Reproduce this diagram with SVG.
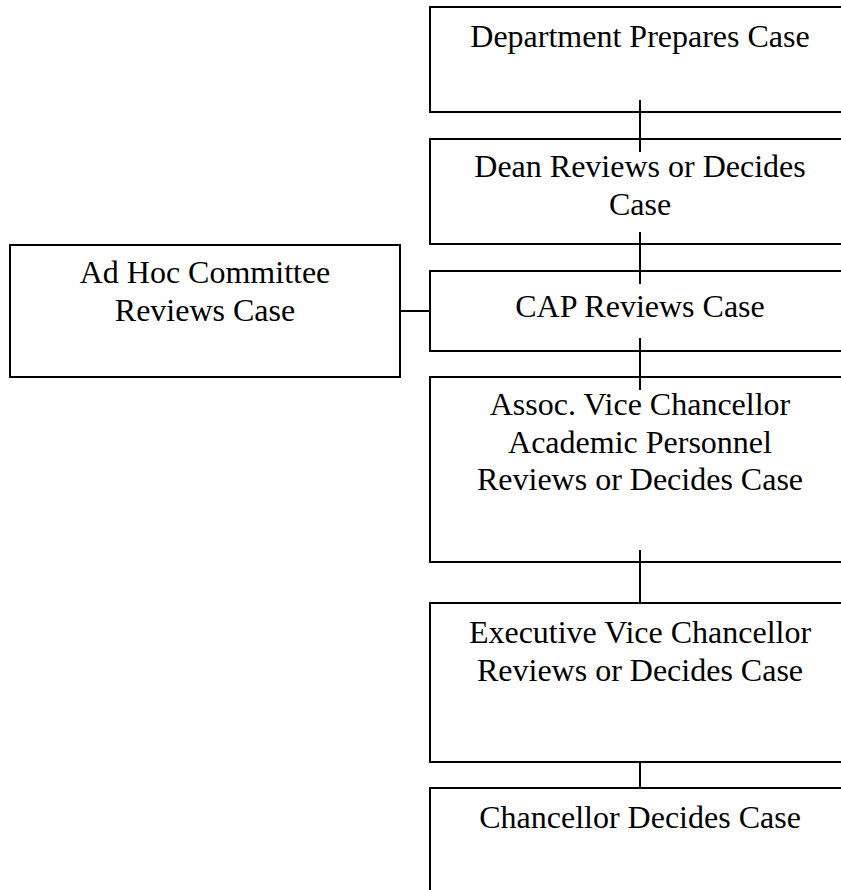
<svg xmlns="http://www.w3.org/2000/svg" width="841" height="890" viewBox="0 0 841 890">
<style>
.box{fill:#fff;stroke:#000;stroke-width:2}
.lbl{font-family:"Liberation Serif","Times New Roman",serif;font-size:32px;fill:#000;text-anchor:middle}
.conn line{stroke:#000;stroke-width:2}
</style>
<rect width="841" height="890" fill="#fff"/>
<g id="n1"><rect class="box" x="430" y="7" width="420" height="105"/><text class="lbl" x="640" y="47">Department Prepares Case</text></g>
<g id="n2"><rect class="box" x="430" y="139" width="420" height="105"/><text class="lbl" x="640" y="177">Dean Reviews or Decides</text><text class="lbl" x="640" y="215">Case</text></g>
<g id="n3"><rect class="box" x="430" y="271" width="420" height="80"/><text class="lbl" x="640" y="317">CAP Reviews Case</text></g>
<g id="n4"><rect class="box" x="430" y="377" width="420" height="185"/><text class="lbl" x="640" y="415">Assoc. Vice Chancellor</text><text class="lbl" x="640" y="453">Academic Personnel</text><text class="lbl" x="640" y="490">Reviews or Decides Case</text></g>
<g id="n5"><rect class="box" x="430" y="603" width="420" height="159"/><text class="lbl" x="640" y="643">Executive Vice Chancellor</text><text class="lbl" x="640" y="681">Reviews or Decides Case</text></g>
<g id="n6"><rect class="box" x="430" y="788" width="420" height="140"/><text class="lbl" x="640" y="828">Chancellor Decides Case</text></g>
<g id="adhoc"><rect class="box" x="10" y="245" width="390" height="132"/><text class="lbl" x="205" y="283">Ad Hoc Committee</text><text class="lbl" x="205" y="321">Reviews Case</text></g>
<g id="connectors" class="conn">
<line x1="640" y1="100" x2="640" y2="152"/>
<line x1="640" y1="232" x2="640" y2="284"/>
<line x1="640" y1="338" x2="640" y2="390"/>
<line x1="640" y1="550" x2="640" y2="603"/>
<line x1="640" y1="762" x2="640" y2="788"/>
<line x1="400" y1="311" x2="430" y2="311"/>
</g>
</svg>
